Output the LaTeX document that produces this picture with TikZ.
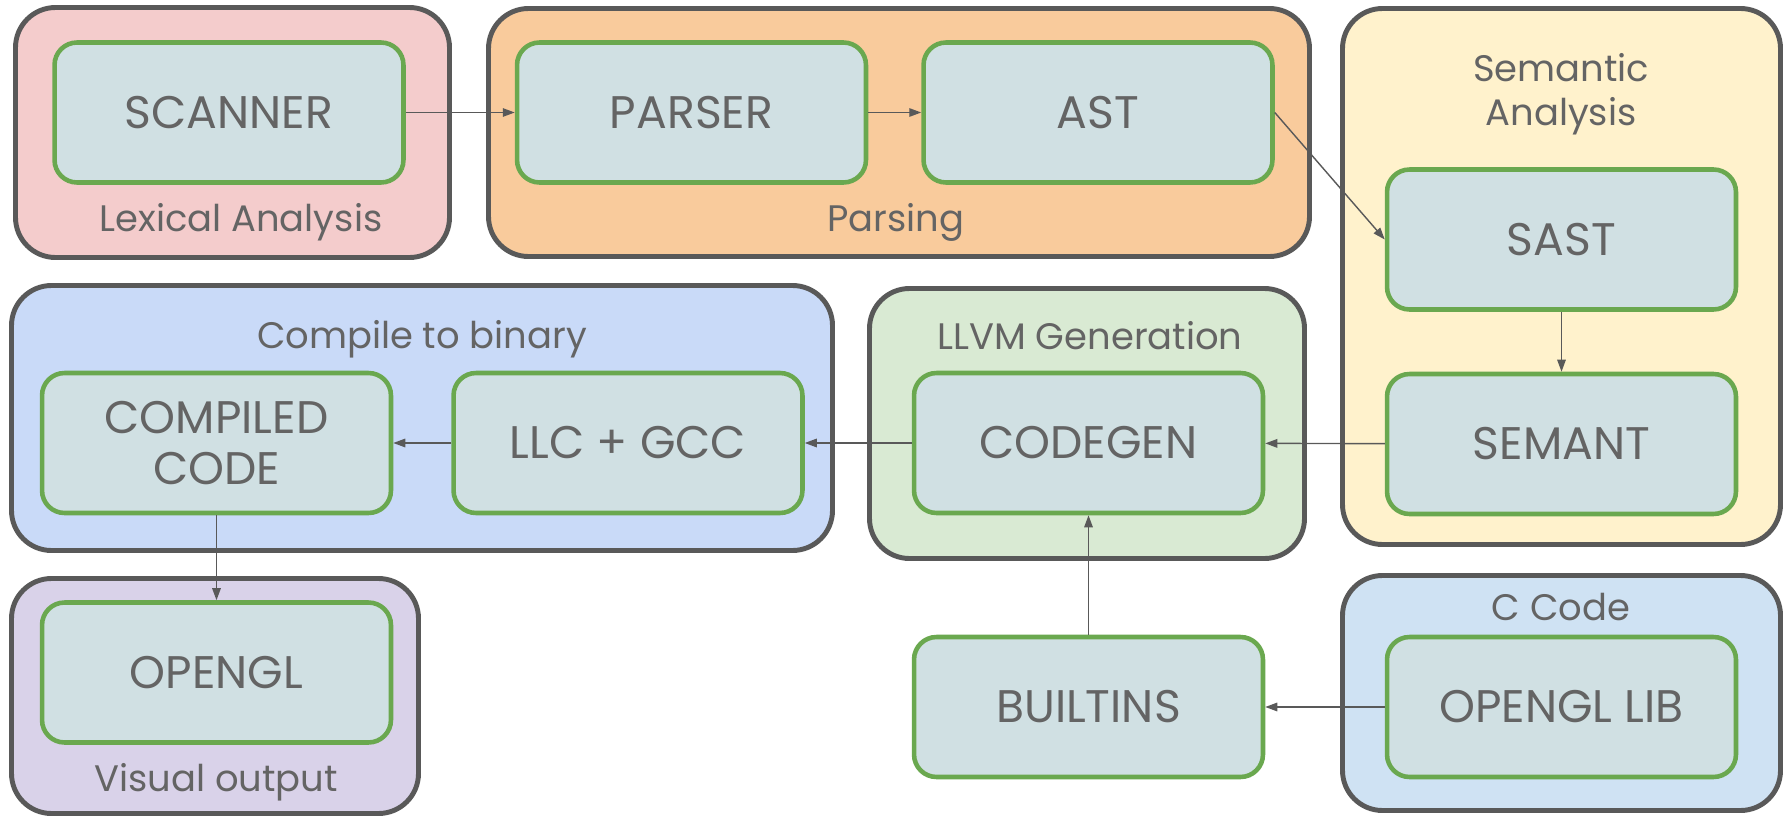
\documentclass[tikz,border=0pt]{standalone}
\usepackage{fontspec}
\setmainfont{Poppins}
\usetikzlibrary{arrows.meta}

\definecolor{edgegrey}{HTML}{595959}
\definecolor{textgrey}{HTML}{646464}
\definecolor{unitgreen}{HTML}{6AA84F}
\definecolor{unitfill}{HTML}{D0E0E3}
\definecolor{lexfill}{HTML}{F4CCCC}
\definecolor{parsefill}{HTML}{F9CB9C}
\definecolor{semfill}{HTML}{FFF2CC}
\definecolor{binfill}{HTML}{C9DAF8}
\definecolor{llvmfill}{HTML}{D9EAD3}
\definecolor{visfill}{HTML}{D9D2E9}
\definecolor{cfill}{HTML}{CFE2F3}

\tikzset{
  stage/.style={draw=edgegrey, line width=2.8pt, rounded corners=0.8cm},
  unit/.style={draw=unitgreen, fill=unitfill, line width=2.6pt, rounded corners=0.45cm,
    minimum width=6.98cm, minimum height=2.8cm, text=textgrey,
    font=\fontsize{26}{29}\selectfont},
  caption/.style={text=textgrey, align=center, font=\fontsize{21}{25}\selectfont},
  flow/.style={draw=edgegrey, line width=0.8pt, -{Triangle[length=0.24cm,width=0.17cm]}}
}

\begin{document}
\begin{tikzpicture}[x=0.02cm, y=-0.02cm]
    \useasboundingbox[fill=white] (0,0) rectangle (1792,818);

    % stage frames
    \draw[stage, fill=lexfill]   (15.5,7.5)   rectangle (449.5,257.5);
    \draw[stage, fill=parsefill] (488.5,8.5)  rectangle (1309.5,256.5);
    \draw[stage, fill=semfill]   (1342.5,8.5) rectangle (1780.5,544.5);
    \draw[stage, fill=binfill]   (11.5,285.5) rectangle (832.5,550.5);
    \draw[stage, fill=llvmfill]  (869.5,288.5) rectangle (1304.5,558.5);
    \draw[stage, fill=visfill]   (11.5,578.5) rectangle (418.5,813.5);
    \draw[stage, fill=cfill]     (1342.5,575.5) rectangle (1780.5,810.5);

    % stage captions
    \node[caption] (lexcap)   at (241,222)  {Lexical Analysis};
    \node[caption] (parsecap) at (896,222)  {Parsing};
    \node[caption] (semcap)   at (1561,94)  {Semantic\\Analysis};
    \node[caption] (bincap)   at (422,339)  {Compile to binary};
    \node[caption] (llvmcap)  at (1090,336) {LLVM Generation};
    \node[caption] (viscap)   at (216,782)  {Visual output};
    \node[caption] (ccap)     at (1561,607) {C Code};

    % units
    \node[unit] (scanner)  at (229,112.5)   {SCANNER};
    \node[unit] (parser)   at (691.5,112.5) {PARSER};
    \node[unit] (ast)      at (1098,112.5)  {AST};
    \node[unit] (sast)     at (1561.5,239.5) {SAST};
    \node[unit] (semant)   at (1561.5,444)  {SEMANT};
    \node[unit, align=center] (compiled) at (216.5,443) {COMPILED\\CODE};
    \node[unit] (llc)      at (628,443)     {LLC + GCC};
    \node[unit] (codegen)  at (1088.5,443)  {CODEGEN};
    \node[unit] (opengl)   at (216.5,672.5) {OPENGL};
    \node[unit] (builtins) at (1088.5,707)  {BUILTINS};
    \node[unit] (glib)     at (1561.5,707)  {OPENGL LIB};

    % connectors
    \draw[flow] (scanner) -- (parser);
    \draw[flow] (parser) -- (ast);
    \draw[flow] (ast.east) -- (sast.west);
    \draw[flow] (sast) -- (semant);
    \draw[flow] (semant) -- (codegen);
    \draw[flow] (codegen) -- (llc);
    \draw[flow] (llc) -- (compiled);
    \draw[flow] (compiled) -- (opengl);
    \draw[flow] (builtins) -- (codegen);
    \draw[flow] (glib) -- (builtins);
\end{tikzpicture}
\end{document}
